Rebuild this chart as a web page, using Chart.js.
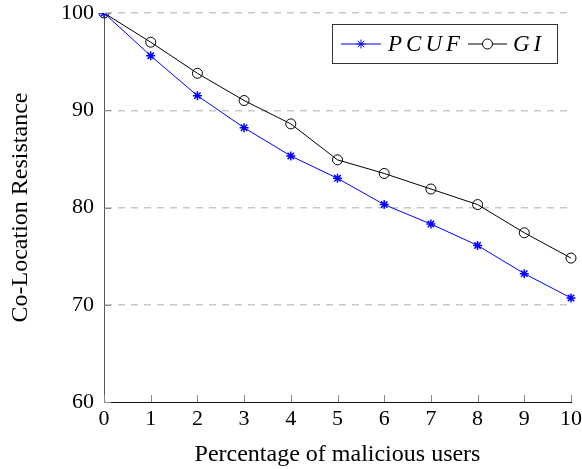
<!DOCTYPE html>
<html>
<head>
<meta charset="utf-8">
<script src="https://cdn.jsdelivr.net/npm/chart.js@4"></script>
<style>
  body { margin: 0; background: #fff; }
</style>
</head>
<body>
<canvas id="chart" width="582" height="469"></canvas>
<script>
// data
const percentages = ['0', '1', '2', '3', '4', '5', '6', '7', '8', '9', '10'];
const pcufValues = [100, 95.6, 91.5, 88.2, 85.3, 83.0, 80.3, 78.3, 76.1, 73.2, 70.7];
const giValues = [100, 97.0, 93.8, 91.0, 88.6, 84.9, 83.5, 81.9, 80.3, 77.4, 74.8];
const yTicks = [60, 70, 80, 90, 100];

const serif = "'Liberation Serif', 'DejaVu Serif', serif";

// small inward tick marks like pgfplots
const innerTicks = {
  id: 'innerTicks',
  afterDatasetsDraw(chart) {
    const ctx = chart.ctx;
    const x = chart.scales.x, y = chart.scales.y;
    const area = chart.chartArea;
    ctx.save();
    ctx.strokeStyle = '#888';
    ctx.lineWidth = 1;
    percentages.forEach((p, i) => {
      const px = Math.round(x.getPixelForValue(i)) + 0.5;
      ctx.beginPath();
      ctx.moveTo(px, area.bottom);
      ctx.lineTo(px, area.bottom - 7);
      ctx.stroke();
    });
    yTicks.forEach(v => {
      const py = Math.round(y.getPixelForValue(v)) + 0.5;
      ctx.beginPath();
      ctx.moveTo(area.left, py);
      ctx.lineTo(area.left + 7, py);
      ctx.stroke();
    });
    ctx.restore();
  }
};

// boxed legend with line + marker samples
const boxLegend = {
  id: 'boxLegend',
  afterDraw(chart) {
    const ctx = chart.ctx;
    ctx.save();
    ctx.fillStyle = '#fff';
    ctx.fillRect(332, 24, 226, 40);
    ctx.strokeStyle = '#333';
    ctx.lineWidth = 1;
    ctx.strokeRect(332.5, 24.5, 225, 39);

    const cy = 44;
    // PCUF sample
    ctx.strokeStyle = '#0000ff';
    ctx.beginPath(); ctx.moveTo(341, cy); ctx.lineTo(381, cy); ctx.stroke();
    Chart.helpers.drawPoint(ctx, {pointStyle: 'star', radius: 4.5, borderWidth: 1.5}, 361, cy);
    // GI sample
    ctx.strokeStyle = '#000';
    ctx.beginPath(); ctx.moveTo(468, cy); ctx.lineTo(507, cy); ctx.stroke();
    ctx.fillStyle = '#fff';
    Chart.helpers.drawPoint(ctx, {pointStyle: 'circle', radius: 5, borderWidth: 1}, 487.5, cy);

    ctx.fillStyle = '#000';
    ctx.font = 'italic 23px ' + serif;
    ctx.textBaseline = 'middle';
    ctx.letterSpacing = '4px';
    ctx.fillText('PCUF', 388, cy + 1);
    ctx.fillText('GI', 513, cy + 1);
    ctx.restore();
  }
};

const chart = new Chart(document.getElementById('chart'), {
  type: 'line',
  data: {
    labels: percentages,
    datasets: [
      {
        label: 'PCUF',
        data: pcufValues,
        borderColor: '#0000ff',
        backgroundColor: '#0000ff',
        borderWidth: 1,
        pointStyle: 'star',
        pointRadius: 4.5,
        pointBorderWidth: 1.5,
        tension: 0
      },
      {
        label: 'GI',
        data: giValues,
        borderColor: '#000',
        backgroundColor: 'rgba(255,255,255,0)',
        borderWidth: 1,
        pointStyle: 'circle',
        pointRadius: 5,
        pointBorderWidth: 1,
        tension: 0
      }
    ]
  },
  options: {
    responsive: false,
    animation: false,
    layout: { padding: { top: 13, right: 11, left: 0, bottom: 0 } },
    plugins: {
      legend: { display: false },
      tooltip: { enabled: false }
    },
    scales: {
      x: {
        offset: false,
        grid: { display: false, drawTicks: false },
        border: { display: true, color: '#111', width: 1 },
        ticks: {
          color: '#000',
          padding: 4,
          maxRotation: 0,
          autoSkip: false,
          font: { family: serif, size: 22 }
        },
        title: {
          display: true,
          text: 'Percentage of malicious users',
          color: '#000',
          padding: { top: 0, bottom: 0 },
          font: { family: serif, size: 24 }
        },
        afterFit(scale) {
          scale.height = 67;
          scale.paddingLeft = 0;
          scale.paddingRight = 0;
        }
      },
      y: {
        min: 60,
        max: 100,
        ticks: {
          stepSize: 10,
          color: '#000',
          padding: 10,
          font: { family: serif, size: 22 }
        },
        grid: {
          drawTicks: false,
          color: ctx => ctx.tick.value === 60 ? 'rgba(0,0,0,0)' : '#c8c8c8',
          lineWidth: 1.5
        },
        border: { display: true, color: '#555', width: 1, dash: [7, 6], dashOffset: 0 },
        title: {
          display: true,
          text: 'Co-Location Resistance',
          color: '#000',
          padding: { top: 6, bottom: 0 },
          font: { family: serif, size: 24 }
        },
        afterFit(scale) {
          scale.width = 104;
          scale.paddingTop = 0;
          scale.paddingBottom = 0;
        }
      }
    }
  },
  plugins: [innerTicks, boxLegend]
});
</script>
</body>
</html>
